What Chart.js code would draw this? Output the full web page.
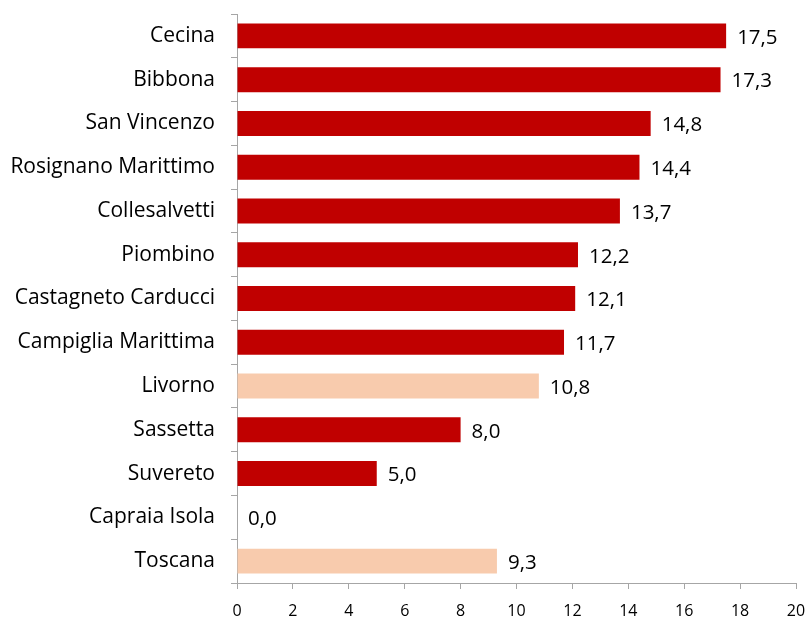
<!DOCTYPE html>
<html>
<head>
<meta charset="utf-8">
<script src="https://cdn.jsdelivr.net/npm/chart.js@4"></script>
<style>
  html, body { margin: 0; padding: 0; background: #fff; }
  #wrap { width: 807px; height: 617px; }
</style>
</head>
<body>
<div id="wrap"><canvas id="chart" width="807" height="617"></canvas></div>
<script>
const comuni = ['Cecina', 'Bibbona', 'San Vincenzo', 'Rosignano Marittimo', 'Collesalvetti', 'Piombino',
  'Castagneto Carducci', 'Campiglia Marittima', 'Livorno', 'Sassetta', 'Suvereto', 'Capraia Isola', 'Toscana'];
const valori = [17.5, 17.3, 14.8, 14.4, 13.7, 12.2, 12.1, 11.7, 10.8, 8.0, 5.0, 0.0, 9.3];
const evidenziati = ['Livorno', 'Toscana'];

const rosso = '#C00000';
const rosa = '#F8CBAD';
const grigio = '#a6a6a6';

// etichette dei valori a destra delle barre
const valueLabels = {
  id: 'valueLabels',
  afterDatasetsDraw(chart) {
    const ctx = chart.ctx;
    const meta = chart.getDatasetMeta(0);
    ctx.save();
    ctx.font = '20.5px "Open Sans", sans-serif';
    ctx.fillStyle = '#000';
    ctx.textBaseline = 'middle';
    ctx.textAlign = 'left';
    meta.data.forEach((bar, i) => {
      ctx.fillText(valori[i].toFixed(1).replace('.', ','), bar.x + 11, bar.y + 2);
    });
    ctx.restore();
  }
};

new Chart(document.getElementById('chart').getContext('2d'), {
  type: 'bar',
  data: {
    labels: comuni,
    datasets: [{
      data: valori,
      backgroundColor: comuni.map(c => evidenziati.includes(c) ? rosa : rosso),
      borderWidth: 0,
      categoryPercentage: 1,
      barPercentage: 0.57
    }]
  },
  options: {
    indexAxis: 'y',
    responsive: false,
    animation: false,
    layout: { padding: { top: 14, right: 11, left: 0, bottom: 0 } },
    plugins: {
      legend: { display: false },
      tooltip: { enabled: false }
    },
    scales: {
      x: {
        min: 0,
        max: 20,
        ticks: { stepSize: 2, color: '#000', font: { family: 'Open Sans', size: 16 }, padding: 13 },
        grid: { drawOnChartArea: false, tickLength: 6, color: grigio },
        border: { color: grigio },
        afterFit(scale) {
          scale.height = 34;
          scale.paddingLeft = 0;
          scale.paddingRight = 0;
        }
      },
      y: {
        ticks: { color: '#000', font: { family: 'Open Sans', size: 21 }, padding: 16 },
        grid: { drawOnChartArea: false, tickLength: 6, color: grigio, offset: true },
        border: { color: grigio },
        afterFit(scale) {
          scale.width = 237;
          scale.paddingTop = 0;
          scale.paddingBottom = 0;
        }
      }
    }
  },
  plugins: [valueLabels]
});
</script>
</body>
</html>
